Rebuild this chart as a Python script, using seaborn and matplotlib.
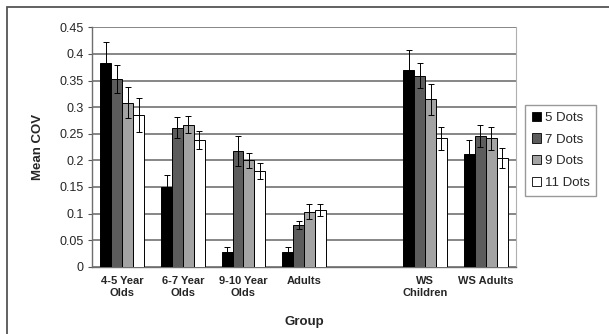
import matplotlib
matplotlib.use("Agg")
import matplotlib.pyplot as plt
from matplotlib.patches import Rectangle
from matplotlib.container import BarContainer
import seaborn as sns
import pandas as pd
import numpy as np

categories = ["4-5 Year\nOlds", "6-7 Year\nOlds", "9-10 Year\nOlds", "Adults", " ", "WS\nChildren", "WS Adults"]
series = ["5 Dots", "7 Dots", "9 Dots", "11 Dots"]
groups = ["4-5 Year\nOlds", "6-7 Year\nOlds", "9-10 Year\nOlds", "Adults", "WS\nChildren", "WS Adults"]

dots5 = [0.383, 0.149, 0.027, 0.027, 0.369, 0.211]
dots7 = [0.353, 0.261, 0.217, 0.078, 0.359, 0.246]
dots9 = [0.308, 0.267, 0.200, 0.103, 0.315, 0.241]
dots11 = [0.286, 0.238, 0.180, 0.106, 0.241, 0.205]

err5 = [0.039, 0.024, 0.010, 0.010, 0.038, 0.027]
err7 = [0.027, 0.020, 0.028, 0.008, 0.023, 0.021]
err9 = [0.029, 0.016, 0.014, 0.014, 0.029, 0.022]
err11 = [0.032, 0.017, 0.015, 0.011, 0.022, 0.019]

yticks = [0, 0.05, 0.1, 0.15, 0.2, 0.25, 0.3, 0.35, 0.4, 0.45]
ytick_labels = ["0", "0.05", "0.1", "0.15", "0.2", "0.25", "0.3", "0.35", "0.4", "0.45"]

values = [dots5, dots7, dots9, dots11]
errors = [err5, err7, err9, err11]

rows = []
for s, vals, errs in zip(series, values, errors):
    for g, v, e in zip(groups, vals, errs):
        rows.append({"Group": g, "Series": s, "COV": v, "err": e})
df = pd.DataFrame(rows)

sns.set_style("white")
plt.rcParams["font.family"] = ["Liberation Sans", "DejaVu Sans"]

fig = plt.figure(figsize=(6.09, 3.34), dpi=100)
ax = fig.add_axes([92 / 609, 1 - 266.7 / 334, (516 - 92) / 609, (266.7 - 27.3) / 334])

palette = ["#000000", "#5c5c5c", "#a3a3a3", "#ffffff"]
sns.barplot(data=df, x="Group", y="COV", hue="Series", order=categories,
            hue_order=series, palette=palette, errorbar=None, width=0.72,
            edgecolor="black", linewidth=0.7, ax=ax, zorder=3, legend=True)

# error bars from bar geometry
err_lookup = {(series[i], groups[j]): errors[i][j] for i in range(4) for j in range(6)}
bar_containers = [c for c in ax.containers if isinstance(c, BarContainer)]
for hi, cont in enumerate(bar_containers):
    for bar in cont:
        if bar is None:
            continue
        xc = bar.get_x() + bar.get_width() / 2
        h = bar.get_height()
        if h is None or np.isnan(h):
            continue
        ci = int(round(xc))
        cat = categories[ci]
        if (series[hi], cat) not in err_lookup:
            continue
        e = err_lookup[(series[hi], cat)]
        ax.errorbar(xc, h, yerr=e, fmt="none", ecolor="black", elinewidth=0.7,
                    capsize=2, capthick=0.7, zorder=4)

ax.set_xlim(-0.5, len(categories) - 0.5)
ax.set_ylim(0, 0.45)
ax.set_yticks(yticks)
ax.set_yticklabels(ytick_labels, fontsize=9)
ax.yaxis.grid(True, color="#666666", linewidth=1.1, zorder=0)
ax.set_axisbelow(True)

ax.set_xticks(range(len(categories)))
ax.set_xticklabels(categories, fontsize=8, fontweight="bold")
ax.set_xticks(np.arange(-0.5, len(categories), 1.0), minor=True)
ax.tick_params(axis="x", which="major", length=0, pad=7)
ax.tick_params(axis="x", which="minor", length=3, color="#555555", width=0.8, direction="out")
ax.tick_params(axis="y", length=3, color="#555555", width=0.8, direction="out", pad=3, left=True)

for side in ["left", "bottom"]:
    ax.spines[side].set_color("#6e6e6e")
    ax.spines[side].set_linewidth(1.0)
ax.spines["right"].set_color("#b0b0b0")
ax.spines["right"].set_linewidth(0.8)
ax.spines["top"].set_visible(False)

ax.set_ylabel("Mean COV", fontsize=9.5, fontweight="bold", labelpad=11)
ax.set_xlabel("Group", fontsize=9.5, fontweight="bold", labelpad=13)

leg = ax.legend(loc="upper left", bbox_to_anchor=(525 / 609, 1 - 105 / 334),
                bbox_transform=fig.transFigure, borderaxespad=0, frameon=True,
                fancybox=False, fontsize=9.5, handlelength=0.7, handleheight=0.7,
                handletextpad=0.3, labelspacing=0.72, borderpad=0.5, title=None)
leg.get_frame().set_edgecolor("#808080")
leg.get_frame().set_linewidth(1.0)
for p in leg.get_patches():
    p.set_edgecolor("black")
    p.set_linewidth(0.6)

fig.add_artist(Rectangle((7 / 609, -0.1), 1.2, 1 - 7 / 334 + 0.1, transform=fig.transFigure,
                         fill=False, edgecolor="#555555", linewidth=1.3))

fig.savefig("out.png", dpi=100)
